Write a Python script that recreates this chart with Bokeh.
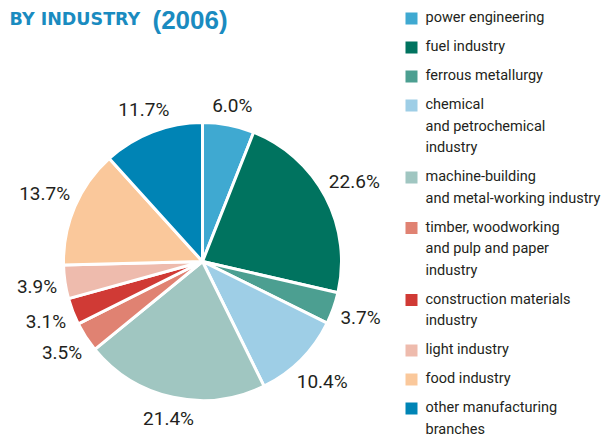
import math
from bokeh.plotting import figure
from bokeh.models import Range1d
from bokeh.embed import file_html
from bokeh.resources import INLINE
from bokeh.core.properties import value

# ---------------- data ----------------
categories = [
    "power engineering",
    "fuel industry",
    "ferrous metallurgy",
    "chemical\nand petrochemical\nindustry",
    "machine-building\nand metal-working industry",
    "timber, woodworking\nand pulp and paper\nindustry",
    "construction materials\nindustry",
    "light industry",
    "food industry",
    "other manufacturing\nbranches",
]
shares = [6.0, 22.6, 3.7, 10.4, 21.4, 3.5, 3.1, 3.9, 13.7, 11.7]
colors = [
    "#3FA9D1", "#00735F", "#4C9F91", "#9ECEE6", "#A0C6C1",
    "#E08272", "#D03A35", "#EEBBAD", "#FAC89B", "#0084B5",
]
title_main = "BY INDUSTRY"
title_year = "(2006)"

# ---------------- layout ----------------
W, H = 602, 436
FONT = "Roboto"
TXT = "#231F20"
TITLE_C = "#1A8BC0"

def Y(py):
    return H - py

p = figure(width=W, height=H, x_range=Range1d(0, W), y_range=Range1d(0, H),
           output_backend="svg", toolbar_location=None, min_border=0)
p.axis.visible = False
p.grid.visible = False
p.outline_line_color = None
p.background_fill_color = "white"
p.border_fill_color = "white"

# pie
cx, cy, r = 202, Y(261), 139
total = sum(shares)
starts, ends, mids = [], [], []
acc = 0.0
for s in shares:
    a0 = acc / total
    acc += s
    a1 = acc / total
    starts.append(math.pi / 2 - a0 * 2 * math.pi)
    ends.append(math.pi / 2 - a1 * 2 * math.pi)
    mids.append((a0 + a1) / 2 * 2 * math.pi)  # clockwise from top

p.wedge(x=[cx] * len(shares), y=[cy] * len(shares), radius=r,
        start_angle=starts, end_angle=ends, direction="clock",
        fill_color=colors, line_color="white", line_width=3)

# percentage labels
lab_size = 19
lx, ly, lt = [], [], []
for s, th in zip(shares, mids):
    t = f"{s:.1f}%"
    w = len(t) * 0.46 * lab_size
    h = 0.72 * lab_size
    R = 149 + (w / 2) * abs(math.sin(th)) + (h / 2) * abs(math.cos(th))
    lx.append(cx + R * math.sin(th))
    ly.append(cy + R * math.cos(th))
    lt.append(t)
p.text(x=lx, y=ly, text=lt, text_align="center", text_baseline="middle",
       text_font=value(FONT), text_font_size=f"{lab_size}px", text_color=TXT)

# title
p.text(x=[9], y=[Y(18)], text=[title_main], text_font=value("DejaVu Sans"),
       text_font_style="bold", text_font_size="17.5px", text_color=TITLE_C,
       text_baseline="middle")
p.text(x=[152], y=[Y(19)], text=[title_year], text_font=value("Liberation Sans"),
       text_font_style="bold", text_font_size="26px", text_color=TITLE_C,
       text_baseline="middle")

# legend
line_h = 21.5
gap = 7.5
py = 17
sq_x, sq_y, tx, ty, tt = [], [], [], [], []
for cat in categories:
    lines = cat.split("\n")
    sq_x.append(411)
    sq_y.append(Y(py + 1))
    for i, ln in enumerate(lines):
        tx.append(425)
        ty.append(Y(py + i * line_h))
        tt.append(ln)
    py += len(lines) * line_h + gap
p.rect(x=sq_x, y=sq_y, width=12, height=12, fill_color=colors, line_color=None)
p.text(x=tx, y=ty, text=tt, text_font=value(FONT), text_font_size="14.5px",
       text_color=TXT, text_baseline="middle", text_align="left")

open("out.html", "w").write(file_html(p, INLINE))
